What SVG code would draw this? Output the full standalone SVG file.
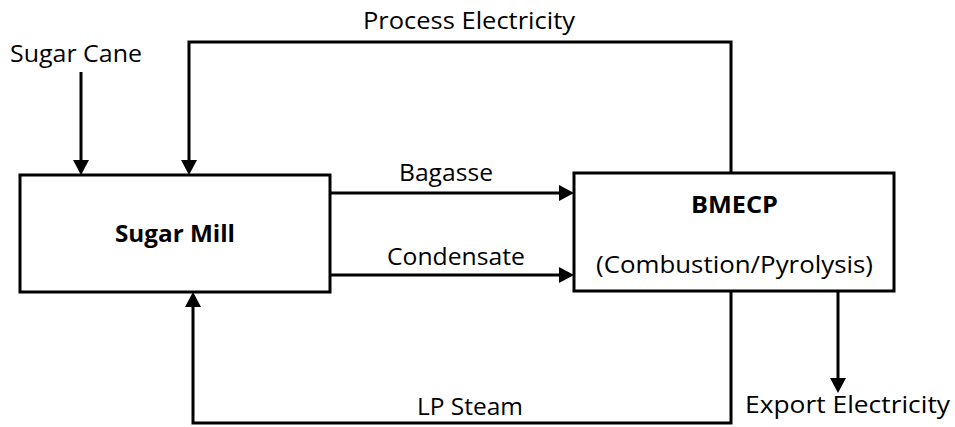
<svg xmlns="http://www.w3.org/2000/svg" width="955" height="427" viewBox="0 0 955 427">
<style>
  .box { fill: #ffffff; stroke: #000000; stroke-width: 3; }
  .conn { fill: none; stroke: #000000; stroke-width: 3; }
  .lbl { font-family: "Open Sans", "Liberation Sans", Arial, sans-serif; font-size: 24px; fill: #000000; }
  .bold { font-weight: bold; }
</style>
<defs>
  <marker id="arrow" viewBox="0 0 15 16" refX="0" refY="8" markerWidth="15" markerHeight="16" markerUnits="userSpaceOnUse" orient="auto">
    <path d="M0,0 L15,8 L0,16 z" fill="#000000"/>
  </marker>
</defs>
<rect width="955" height="427" fill="#ffffff"/>
<g id="connectors">
  <path id="sugar-cane" class="conn" d="M81,72 L81,160" marker-end="url(#arrow)"/>
  <path id="process-electricity" class="conn" d="M731,173 L731,42 L189,42 L189,160" marker-end="url(#arrow)"/>
  <path id="bagasse" class="conn" d="M330,193 L559,193" marker-end="url(#arrow)"/>
  <path id="condensate" class="conn" d="M330,275 L559,275" marker-end="url(#arrow)"/>
  <path id="lp-steam" class="conn" d="M731,291 L731,423 L193,423 L193,307" marker-end="url(#arrow)"/>
  <path id="export-electricity" class="conn" d="M838,291 L838,378" marker-end="url(#arrow)"/>
  <text class="lbl" x="10" y="62" textLength="132" lengthAdjust="spacingAndGlyphs">Sugar Cane</text>
  <text class="lbl" x="363" y="29" textLength="212" lengthAdjust="spacingAndGlyphs">Process Electricity</text>
  <text class="lbl" x="399" y="181" textLength="94" lengthAdjust="spacingAndGlyphs">Bagasse</text>
  <text class="lbl" x="387" y="265" textLength="138" lengthAdjust="spacingAndGlyphs">Condensate</text>
  <text class="lbl" x="417" y="415" textLength="106" lengthAdjust="spacingAndGlyphs">LP Steam</text>
  <text class="lbl" x="745" y="413" textLength="205" lengthAdjust="spacingAndGlyphs">Export Electricity</text>
</g>
<g id="sugar-mill">
  <rect class="box" x="20" y="175" width="310" height="117"/>
  <text class="lbl bold" x="115" y="242" textLength="120" lengthAdjust="spacingAndGlyphs">Sugar Mill</text>
</g>
<g id="bmecp">
  <rect class="box" x="574" y="173" width="320" height="118"/>
  <text class="lbl bold" x="691" y="213" textLength="87" lengthAdjust="spacingAndGlyphs">BMECP</text>
  <text class="lbl" x="596" y="273" textLength="277" lengthAdjust="spacingAndGlyphs">(Combustion/Pyrolysis)</text>
</g>
</svg>
